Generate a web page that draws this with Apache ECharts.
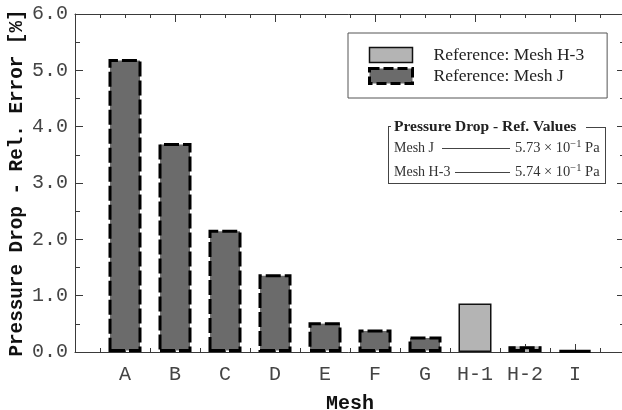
<!DOCTYPE html>
<html>
<head>
<meta charset="utf-8">
<style>
  html, body { margin: 0; padding: 0; background: #fff; }
  #chart { width: 622px; height: 410px; }
</style>
<script src="https://cdn.jsdelivr.net/npm/echarts@6/dist/echarts.min.js"></script>
</head>
<body>
<div id="chart"></div>
<script>
// Mesh names along the x axis (placed at positions 1..10)
const categories = ['A', 'B', 'C', 'D', 'E', 'F', 'G', 'H-1', 'H-2', 'I'];
// Relative pressure-drop error [%] with Mesh J as reference
const relErrRefJ = [5.20, 3.71, 2.17, 1.38, 0.53, 0.40, 0.275, null, 0.10, 0.03];
// Relative pressure-drop error [%] with Mesh H-3 as reference
const relErrRefH3 = [null, null, null, null, null, null, null, 0.86, 0.10, null];
// Reference pressure drops
const refMeshes = ['Mesh J', 'Mesh H-3'];
const refMantissa = ['5.73', '5.74'];
const refExponent = ['\u22121', '\u22121'];
const yTickValues = [0, 1, 2, 3, 4, 5, 6];

const MONO = "'Liberation Mono', 'DejaVu Sans Mono', monospace";
const SERIF = "'Liberation Serif', 'DejaVu Serif', serif";
const AXIS_COLOR = '#3a3a3a';
const DARK = '#6b6b6b';
const LIGHT = '#b4b4b4';
const DASH = [15, 4];

const chart = echarts.init(document.getElementById('chart'), null, { renderer: 'canvas' });

const dataJ = [];
const dataH3 = [];
categories.forEach((c, i) => {
  const j = relErrRefJ[i];
  const h = relErrRefH3[i];
  if (h != null) {
    dataH3.push(j != null
      ? { value: [i + 1, h], itemStyle: { borderWidth: 0 } }
      : { value: [i + 1, h] });
  }
  if (j != null) {
    dataJ.push(h != null
      ? { value: [i + 1, j], itemStyle: { color: 'rgba(0,0,0,0)' } }
      : { value: [i + 1, j] });
  }
});

const yMax = yTickValues[yTickValues.length - 1];

// Reference-value panel drawn as graphic elements
const panel = [];
const line = (x1, y1, x2, y2) => ({
  type: 'line', silent: true,
  shape: { x1, y1, x2, y2 },
  style: { stroke: '#444', lineWidth: 1 }
});
panel.push(line(388.5, 126, 388.5, 183.5));
panel.push(line(388, 183.5, 605, 183.5));
panel.push(line(605.5, 127, 605.5, 184));
panel.push(line(388, 126.5, 391, 126.5));
panel.push(line(586, 127.5, 605.5, 127.5));
panel.push({
  type: 'text', silent: true, x: 394, y: 127,
  style: {
    text: 'Pressure Drop - Ref. Values',
    font: 'bold 15.5px ' + SERIF, fill: '#222',
    textAlign: 'left', textVerticalAlign: 'middle'
  }
});
const rowY = [148, 172];
const rowLineStart = [442, 455];
refMeshes.forEach((m, k) => {
  panel.push({
    type: 'text', silent: true, x: 394, y: rowY[k],
    style: {
      text: m, font: '14px ' + SERIF, fill: '#333',
      textAlign: 'left', textVerticalAlign: 'middle'
    }
  });
  panel.push(line(rowLineStart[k], rowY[k] + 0.5, 510, rowY[k] + 0.5));
  panel.push({
    type: 'text', silent: true, x: 515, y: rowY[k],
    style: {
      text: refMantissa[k] + ' \u00d7 10{sup|' + refExponent[k] + '} Pa',
      font: '14.5px ' + SERIF, fill: '#333',
      textAlign: 'left', textVerticalAlign: 'middle',
      rich: {
        sup: { fontSize: 10.5, fontFamily: SERIF, verticalAlign: 'top', lineHeight: 18, fill: '#333' }
      }
    }
  });
});

const option = {
  animation: false,
  backgroundColor: '#fff',
  grid: { left: 75, right: -3, top: 14, bottom: 58, containLabel: false, outerBoundsMode: 'none' },
  legend: {
    orient: 'vertical',
    left: 348, top: 33,
    padding: [13, 23, 13, 20],
    borderColor: '#555', borderWidth: 1, borderRadius: 0,
    backgroundColor: '#fff',
    itemWidth: 43, itemHeight: 15, itemGap: 3,
    icon: 'rect',
    selectedMode: false,
    textStyle: { fontFamily: SERIF, fontSize: 17.5, color: '#222', padding: [0, 0, 0, 16] },
    data: [
      { name: 'Reference: Mesh H-3', itemStyle: { color: LIGHT, borderColor: '#111', borderWidth: 1.5 } },
      { name: 'Reference: Mesh J', itemStyle: { color: DARK, borderColor: '#000', borderWidth: 3, borderType: [10, 4] } }
    ]
  },
  xAxis: [
    {
      type: 'value', position: 'bottom', min: 0, max: 11, interval: 1,
      name: 'Mesh', nameLocation: 'middle', nameGap: 42, nameMoveOverlap: false,
      nameTextStyle: { fontFamily: MONO, fontWeight: 'bold', fontSize: 20, color: '#111' },
      axisLine: { show: true, onZero: false, lineStyle: { color: AXIS_COLOR, width: 1 } },
      axisTick: { show: true, inside: true, length: 8, lineStyle: { color: AXIS_COLOR } },
      minorTick: { show: true, splitNumber: 2, length: 4, lineStyle: { color: AXIS_COLOR } },
      axisLabel: {
        margin: 13, fontFamily: MONO, fontSize: 20, color: '#444',
        formatter: v => (Number.isInteger(v) && v >= 1 && v <= categories.length) ? categories[v - 1] : ''
      },
      splitLine: { show: false }
    },
    {
      type: 'value', position: 'top', min: 0, max: 11, interval: 2,
      axisLine: { show: true, onZero: false, lineStyle: { color: AXIS_COLOR, width: 1 } },
      axisTick: { show: true, inside: true, length: 8, lineStyle: { color: AXIS_COLOR } },
      minorTick: { show: true, splitNumber: 4, length: 4, lineStyle: { color: AXIS_COLOR } },
      axisLabel: { show: false },
      splitLine: { show: false }
    }
  ],
  yAxis: [
    {
      type: 'value', position: 'left', min: 0, max: yMax, interval: 1,
      name: 'Pressure Drop - Rel. Error [%]', nameLocation: 'middle', nameGap: 48, nameMoveOverlap: false,
      nameTextStyle: { fontFamily: MONO, fontWeight: 'bold', fontSize: 19.3, color: '#111' },
      axisLine: { show: true, onZero: false, lineStyle: { color: AXIS_COLOR, width: 1 } },
      axisTick: { show: true, inside: true, length: 8, lineStyle: { color: AXIS_COLOR } },
      minorTick: { show: true, splitNumber: 2, length: 5, lineStyle: { color: AXIS_COLOR } },
      axisLabel: { margin: 7, fontFamily: MONO, fontSize: 20, color: '#444', formatter: v => v.toFixed(1) },
      splitLine: { show: false }
    },
    {
      type: 'value', position: 'right', min: 0, max: yMax, interval: 1,
      axisLine: { show: true, onZero: false, lineStyle: { color: AXIS_COLOR, width: 1 } },
      axisTick: { show: true, inside: true, length: 8, lineStyle: { color: AXIS_COLOR } },
      minorTick: { show: true, splitNumber: 2, length: 5, lineStyle: { color: AXIS_COLOR } },
      axisLabel: { show: false },
      splitLine: { show: false }
    }
  ],
  series: [
    {
      name: 'Reference: Mesh H-3',
      type: 'bar', xAxisIndex: 0, yAxisIndex: 0,
      barWidth: 33, barGap: '-100%',
      itemStyle: { color: LIGHT, borderColor: '#111', borderWidth: 1.5, borderType: 'solid' },
      data: dataH3
    },
    {
      name: 'Reference: Mesh J',
      type: 'bar', xAxisIndex: 0, yAxisIndex: 0,
      barWidth: 33, barGap: '-100%',
      itemStyle: { color: DARK, borderColor: '#000', borderWidth: 3, borderType: DASH },
      data: dataJ
    }
  ],
  graphic: panel
};

chart.setOption(option);
</script>
</body>
</html>
